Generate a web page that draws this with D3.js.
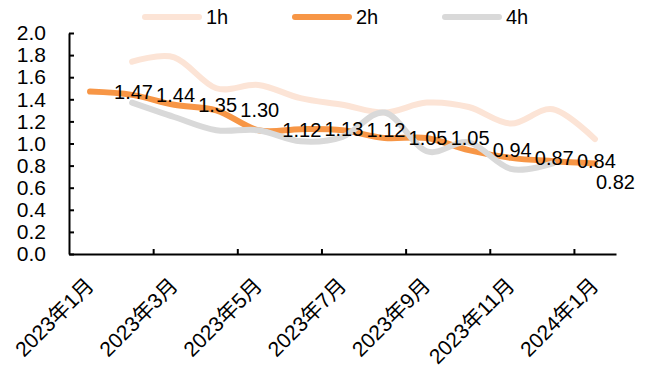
<!DOCTYPE html>
<html>
<head>
<meta charset="utf-8">
<script src="https://cdn.jsdelivr.net/npm/d3@7"></script>
<style>
	body { margin: 0; background: #fff; }
	text { font-family: "Liberation Sans", Arial, "Noto Sans CJK SC", sans-serif; fill: #000; }
</style>
</head>
<body>
<div id="chart"></div>
<script>
var months = ["2023年1月","2023年2月","2023年3月","2023年4月","2023年5月","2023年6月","2023年7月",
	"2023年8月","2023年9月","2023年10月","2023年11月","2023年12月","2024年1月"];
var shownMonths = ["2023年1月","2023年3月","2023年5月","2023年7月","2023年9月","2023年11月","2024年1月"];
var s1h = [null, 1.74, 1.78, 1.50, 1.53, 1.41, 1.35, 1.28, 1.37, 1.33, 1.18, 1.31, 1.04];
var s2h = [1.47, 1.44, 1.35, 1.30, 1.12, 1.13, 1.12, 1.05, 1.05, 0.94, 0.87, 0.84, 0.82];
var s4h = [null, 1.37, 1.24, 1.12, 1.12, 1.02, 1.06, 1.28, 0.93, 1.01, 0.77, 0.82, null];
var yTicks = [0, 0.2, 0.4, 0.6, 0.8, 1.0, 1.2, 1.4, 1.6, 1.8, 2.0];

var width = 648, height = 367;
var plotLeft = 69, plotRight = 616, plotTop = 33, plotBottom = 254;

var series = [
	{ name: "1h", values: s1h, color: "#fce4d6" },
	{ name: "2h", values: s2h, color: "#f79646" },
	{ name: "4h", values: s4h, color: "#d9d9d9" }
];

var svg = d3.select("#chart").append("svg").attr("width", width).attr("height", height);

var x = d3.scaleBand().domain(months).range([plotLeft, plotRight]).padding(0);
var xEdge = d3.scaleLinear().domain([0, months.length]).range([plotLeft, plotRight]);
var y = d3.scaleLinear().domain([0, 2]).range([plotBottom, plotTop]);

// y axis, ticks point inwards
var yAxis = d3.axisLeft(y).tickValues(yTicks).tickFormat(d3.format(".1f"))
	.tickSizeInner(-5).tickSizeOuter(0).tickPadding(23);
var gy = svg.append("g").attr("transform", "translate(" + plotLeft + ",0)").call(yAxis);
gy.selectAll("text").style("font-size", "21px");

// x axis, ticks between every second category
var xAxis = d3.axisBottom(xEdge).tickValues([2, 4, 6, 8, 10, 12]).tickFormat("")
	.tickSizeInner(-5).tickSizeOuter(0);
var gx = svg.append("g").attr("transform", "translate(0," + plotBottom + ")").call(xAxis);

svg.selectAll(".domain, .tick line").attr("stroke", "#000").attr("stroke-width", 2);

svg.append("g").selectAll("text")
	.data(shownMonths)
	.enter().append("text")
	.attr("text-anchor", "end")
	.style("font-size", "21px")
	.attr("transform", function(d) {
		return "translate(" + (x(d) + x.bandwidth() / 2 + 5) + ",287) rotate(-45)";
	})
	.text(function(d) { return d; });

var line = d3.line()
	.defined(function(d) { return d != null; })
	.x(function(d, i) { return x(months[i]) + x.bandwidth() / 2; })
	.y(function(d) { return y(d); })
	.curve(d3.curveCardinal.tension(0));

series.forEach(function(s) {
	svg.append("path")
		.attr("d", line(s.values))
		.attr("fill", "none")
		.attr("stroke", s.color)
		.attr("stroke-width", 6)
		.attr("stroke-linecap", "round")
		.attr("stroke-linejoin", "round");
});

// data labels of 2h, right of each point; the last one sits below
svg.append("g").selectAll("text")
	.data(s2h)
	.enter().append("text")
	.attr("x", function(d, i) { return x(months[i]) + x.bandwidth() / 2 + (i == s2h.length - 1 ? 1 : 24); })
	.attr("y", function(d, i) { return y(d) + (i == s2h.length - 1 ? 19 : 0); })
	.attr("dy", "0.35em")
	.style("font-size", "20px")
	.text(function(d) { return d.toFixed(2); });

// legend
var legend = svg.append("g");
var legendX = [145, 295, 445];
series.forEach(function(s, i) {
	legend.append("line")
		.attr("x1", legendX[i]).attr("x2", legendX[i] + 54)
		.attr("y1", 17).attr("y2", 17)
		.attr("stroke", s.color).attr("stroke-width", 6).attr("stroke-linecap", "round");
	legend.append("text")
		.attr("x", legendX[i] + 61).attr("y", 17).attr("dy", "0.35em")
		.style("font-size", "20px")
		.text(s.name);
});
</script>
</body>
</html>
